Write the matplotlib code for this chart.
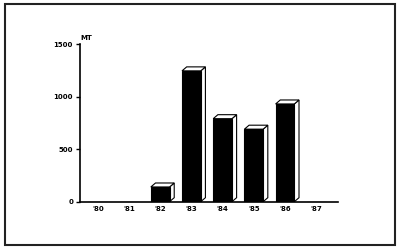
import matplotlib.pyplot as plt
from matplotlib.patches import Polygon, Rectangle

years = ["'80", "'81", "'82", "'83", "'84", "'85", "'86", "'87"]
values = [0, 0, 140, 1245, 790, 690, 930, 0]
yticks = [0, 500, 1000, 1500]

BAR_W = 0.6
DX = 0.15   # depth offset in x (data units)
DY = 38     # depth offset in y (data units)

fig = plt.figure(figsize=(4, 2.49), dpi=100)
fig.patches.append(Rectangle((0.013, 0.016), 0.974, 0.968, transform=fig.transFigure,
                             fill=False, edgecolor="#222222", linewidth=1.5))

ax = fig.add_axes([0.2, 0.19, 0.645, 0.633])
xs = list(range(len(years)))

for x, v in zip(xs, values):
    if v <= 0:
        continue
    l, r = x - BAR_W / 2, x + BAR_W / 2
    top = Polygon([(l, v), (l + DX, v + DY), (r + DX, v + DY), (r, v)],
                  facecolor="white", edgecolor="black", linewidth=0.8, zorder=2)
    side = Polygon([(r, 0), (r + DX, DY), (r + DX, v + DY), (r, v)],
                   facecolor="white", edgecolor="black", linewidth=0.8, zorder=2)
    ax.add_patch(side)
    ax.add_patch(top)

ax.bar(xs, values, width=BAR_W, color="black", edgecolor="black", linewidth=0.8, zorder=3)

ax.set_xlim(-0.57, 7.7)
ax.set_ylim(0, 1500)
ax.set_xticks(xs)
ax.set_xticklabels(years, fontsize=5, fontweight="bold")
ax.set_yticks(yticks)
ax.set_yticklabels([str(t) for t in yticks], fontsize=5, fontweight="bold")
ax.tick_params(axis="x", length=0, pad=3)
ax.tick_params(axis="y", length=3, width=1, pad=2)
for s in ["top", "right"]:
    ax.spines[s].set_visible(False)
ax.spines["left"].set_linewidth(1.2)
ax.spines["bottom"].set_linewidth(1.2)
ax.text(0.0, 1.02, "MT", transform=ax.transAxes, fontsize=5, fontweight="bold",
        ha="left", va="bottom")

fig.savefig("out.png", dpi=100)
